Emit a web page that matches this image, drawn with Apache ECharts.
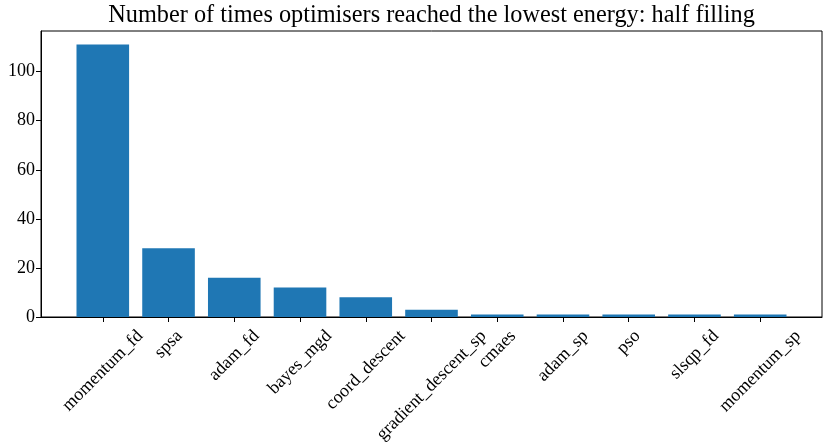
<!DOCTYPE html>
<html><head><meta charset="utf-8">
<script src="https://cdn.jsdelivr.net/npm/echarts@6/dist/echarts.min.js"></script>
<style>html,body{margin:0;padding:0;background:#fff}#c{width:830px;height:443px}</style>
</head><body><div id="c"></div>
<script>
const categories = ['momentum_fd','spsa','adam_fd','bayes_mgd','coord_descent','gradient_descent_sp','cmaes','adam_sp','pso','slsqp_fd','momentum_sp'];
const counts = [111, 28, 16, 12, 8, 3, 1, 1, 1, 1, 1];
const yTicks = [0, 20, 40, 60, 80, 100];
const titleText = 'Number of times optimisers reached the lowest energy: half filling';

const FONT = '"Liberation Serif", "DejaVu Serif", serif';
const TICK_FS = 18;
const GL = 41, GR = 8, GT = 31, GB = 126, W = 830;
const n = categories.length;
const margin = 0.05 * (n - 1 + 0.8);
const xmin = -0.4 - margin, xmax = n - 1 + 0.4 + margin;
const ymax = Math.max(...counts) * 1.05;
const pxPerUnit = (W - GL - GR) / (xmax - xmin);

const chart = echarts.init(document.getElementById('c'), null, {renderer: 'canvas'});
chart.setOption({
  animation: false,
  backgroundColor: '#fff',
  textStyle: {fontFamily: FONT},
  title: {
    text: titleText, left: GL + (W - GL - GR) / 2, top: 4, textAlign: 'center', padding: 0,
    textStyle: {fontFamily: FONT, fontSize: 24.3, fontWeight: 'normal', color: '#000'}
  },
  grid: {left: GL, right: GR, top: GT, bottom: GB, show: true, borderColor: '#000', borderWidth: 1, backgroundColor: 'transparent'},
  xAxis: {
    type: 'value', min: xmin, max: xmax,
    axisLine: {show: true, onZero: false, lineStyle: {color: '#000', width: 1}},
    axisTick: {show: true, customValues: categories.map((c, i) => i), length: 5, lineStyle: {color: '#000'}},
    axisLabel: {show: false},
    splitLine: {show: false}
  },
  yAxis: {
    type: 'value', min: 0, max: ymax, interval: 20,
    axisLine: {show: true, onZero: false, lineStyle: {color: '#000', width: 1}},
    axisTick: {show: true, length: 5, lineStyle: {color: '#000'}, customValues: yTicks},
    axisLabel: {show: true, customValues: yTicks, fontFamily: FONT, fontSize: TICK_FS, color: '#000', margin: 6},
    splitLine: {show: false}
  },
  series: [{
    type: 'bar',
    data: counts.map((v, i) => [i, v]),
    barWidth: 0.8 * pxPerUnit,
    itemStyle: {color: '#1f77b4'}
  }]
});

const ctx = document.createElement('canvas').getContext('2d');
ctx.font = TICK_FS + 'px ' + FONT;
const y0 = chart.convertToPixel({yAxisIndex: 0}, 0) + 10;
const h = TICK_FS * 1.0;
const graphics = categories.map((c, i) => {
  const x = chart.convertToPixel({xAxisIndex: 0}, i);
  const w = ctx.measureText(c).width;
  return {
    type: 'text', x: x, y: y0 + 0.3536 * (w + h), rotation: Math.PI / 4,
    style: {text: c, font: TICK_FS + 'px ' + FONT, fill: '#000', align: 'center', verticalAlign: 'middle'}
  };
});
chart.setOption({graphic: graphics});
</script></body></html>
